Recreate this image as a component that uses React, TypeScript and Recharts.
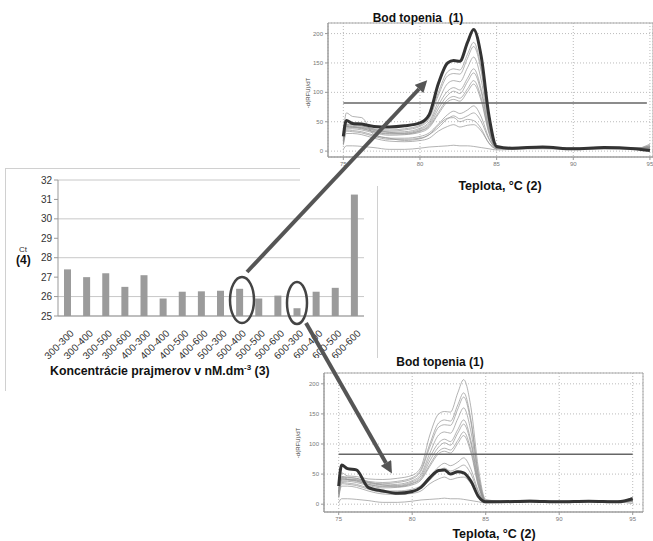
import {
  BarChart,
  Bar,
  XAxis,
  YAxis,
  CartesianGrid,
  LineChart,
  Line,
  ReferenceLine,
  ReferenceArea,
} from "recharts";

const FONT = '"Liberation Sans", Arial, sans-serif';

// Ct per primer concentration pair
const primerPairs = [
  "300-300", "300-400", "300-500", "300-600",
  "400-300", "400-400", "400-500", "400-600",
  "500-300", "500-400", "500-500", "500-600",
  "600-300", "600-400", "600-500", "600-600",
];
const ctValues = [
  27.4, 27.0, 27.2, 26.5, 27.1, 25.9, 26.25, 26.27,
  26.3, 26.4, 25.9, 26.05, 25.4, 26.25, 26.45, 31.25,
];
const ctTicks = [25, 26, 27, 28, 29, 30, 31, 32];

// melt curves, -d(RFU)/dT sampled at these temperatures
const temps = [75, 75.2, 75.6, 76.2, 77, 78, 79, 80, 80.6, 81.2, 81.8, 82.2, 82.6, 83.1, 83.5, 84, 84.5, 85, 86, 88, 90, 92, 94, 95];
const curve500_400 = [25, 52, 47, 46, 42, 41, 43, 48, 62, 115, 150, 154, 153, 185, 207, 160, 60, 8, 5, 7, 4, 6, 4, 1];
const curve600_300 = [30, 65, 59, 57, 28, 22, 18, 21, 28, 44, 56, 57, 50, 54, 52, 38, 13, 4, 4, 5, 4, 5, 4, 9];
const meltA = [20, 45, 44, 43, 38, 36, 38, 44, 58, 100, 135, 140, 138, 165, 185, 140, 50, 6, 4, 6, 4, 5, 4, 10];
const meltB = [22, 44, 42, 41, 36, 34, 36, 42, 55, 95, 128, 132, 131, 158, 178, 135, 48, 6, 5, 5, 5, 6, 5, 6];
const meltC = [20, 42, 41, 40, 35, 32, 33, 39, 50, 85, 115, 120, 118, 142, 160, 120, 42, 6, 4, 6, 3, 5, 4, 8];
const meltD = [18, 40, 40, 38, 33, 30, 31, 37, 47, 78, 102, 108, 104, 124, 140, 105, 38, 5, 5, 5, 5, 6, 4, 5];
const meltE = [20, 46, 45, 43, 37, 32, 30, 35, 44, 72, 95, 102, 98, 118, 133, 100, 35, 6, 4, 5, 5, 5, 4, 12];
const meltF = [18, 42, 41, 39, 33, 29, 29, 34, 42, 66, 88, 93, 90, 106, 120, 90, 32, 5, 5, 5, 4, 6, 5, 6];
const meltG = [16, 38, 38, 36, 31, 27, 28, 32, 40, 63, 84, 88, 85, 101, 114, 85, 30, 5, 4, 6, 4, 5, 5, 7];
const meltH = [14, 36, 35, 33, 27, 22, 22, 25, 31, 46, 62, 68, 64, 70, 77, 58, 22, 5, 4, 5, 4, 5, 4, 6];
const meltI = [12, 34, 33, 31, 25, 20, 20, 22, 28, 40, 55, 60, 55, 60, 65, 50, 20, 5, 5, 5, 4, 4, 5, 5];
const meltJ = [10, 30, 30, 28, 22, 17, 16, 18, 22, 34, 42, 45, 41, 44, 45, 34, 14, 4, 4, 5, 3, 4, 4, 5];
const meltK = [3, 9, 9, 8, 6, 3, 3, 5, 7, 8, 9, 10, 9, 9, 8, 6, 4, 2, 3, 4, 3, 4, 3, 4];

const meltTicksX = [75, 80, 85, 90, 95];
const meltTicksY = [0, 50, 100, 150, 200];

const curves: Record<string, number[]> = {
  curve500_400, curve600_300, meltA, meltB, meltC, meltD, meltE, meltF, meltG, meltH, meltI, meltJ, meltK,
};
const curveKeys = Object.keys(curves);

const barData = primerPairs.map((pair, i) => ({ pair, ct: ctValues[i] }));
const meltData = temps.map((t, i) => {
  const row: Record<string, number> = { t };
  curveKeys.forEach((k) => (row[k] = curves[k][i]));
  return row;
});

const PairTick = ({ x, y, payload }: any) => (
  <g transform={`translate(${x + 2},${y + 5})`}>
    <text transform="rotate(-45)" textAnchor="end" dy="0.7em" fontSize={10} fill="#333" fontFamily={FONT}>
      {payload.value}
    </text>
  </g>
);

interface MeltProps {
  left: number;
  top: number;
  width: number;
  height: number;
  marginTop: number;
  marginRight: number;
  yAxisWidth: number;
  xMax: number;
  yMin: number;
  bold: string;
  threshold: number;
  thresholdEnd: number;
}

function MeltChart(p: MeltProps) {
  const light = curveKeys.filter((k) => k !== p.bold);
  return (
    <div style={{ position: "absolute", left: p.left, top: p.top, width: p.width, height: p.height, background: "#fff" }}>
      <LineChart
        width={p.width}
        height={p.height}
        data={meltData}
        margin={{ top: p.marginTop, right: p.marginRight, bottom: 15, left: 0 }}
        style={{ fontFamily: FONT }}
      >
        <CartesianGrid stroke="#bbb" strokeDasharray="1 2" />
        <ReferenceArea x1={74} x2={p.xMax} y1={p.yMin} y2={218} fill="none" stroke="#aaa" />
        <XAxis
          dataKey="t"
          type="number"
          domain={[74, p.xMax]}
          ticks={meltTicksX}
          height={14}
          tick={{ fontSize: 6, fill: "#777" }}
          tickSize={3}
          stroke="#999"
        />
        <YAxis
          type="number"
          domain={[p.yMin, 218]}
          ticks={meltTicksY}
          width={p.yAxisWidth}
          tick={{ fontSize: 6, fill: "#777" }}
          tickSize={3}
          stroke="#999"
        />
        {light.map((k) => (
          <Line key={k} type="monotone" dataKey={k} stroke="#929292" strokeWidth={0.7} dot={false} isAnimationActive={false} />
        ))}
        <ReferenceLine
          segment={[{ x: 75, y: p.threshold }, { x: p.thresholdEnd, y: p.threshold }]}
          stroke="#666"
          strokeWidth={1.5}
        />
        <Line type="monotone" dataKey={p.bold} stroke="#333" strokeWidth={3} dot={false} isAnimationActive={false} />
      </LineChart>
    </div>
  );
}

export default function App() {
  const titleStyle = { fontFamily: FONT, fontWeight: 700, fill: "#111" };
  return (
    <div style={{ position: "absolute", left: 0, top: 0, width: 653, height: 541, background: "#fff", overflow: "hidden" }}>
      <div
        style={{
          position: "absolute",
          left: 5,
          top: 168,
          width: 371,
          height: 222,
          borderLeft: "1px solid #d0d0d0",
          borderTop: "1px solid #d0d0d0",
          borderRight: "1px solid #d0d0d0",
        }}
      />
      <div style={{ position: "absolute", left: 0, top: 160 }}>
        <BarChart
          width={380}
          height={230}
          data={barData}
          margin={{ top: 20, right: 16, bottom: 0, left: 0 }}
          style={{ fontFamily: FONT }}
        >
          <CartesianGrid vertical={false} stroke="#c8c8c8" />
          <XAxis dataKey="pair" interval={0} height={74} tick={<PairTick />} tickLine={false} stroke="#999" />
          <YAxis
            domain={[25, 32]}
            ticks={ctTicks}
            width={58}
            tick={{ fontSize: 10, fill: "#333" }}
            tickSize={4}
            stroke="#999"
          />
          <Bar dataKey="ct" fill="#9b9b9b" barSize={7} isAnimationActive={false} />
        </BarChart>
      </div>

      <MeltChart
        left={300}
        top={0}
        width={353}
        height={186}
        marginTop={23}
        marginRight={0}
        yAxisWidth={28}
        xMax={95.2}
        yMin={-10}
        bold="curve500_400"
        threshold={82}
        thresholdEnd={94.8}
      />
      <MeltChart
        left={290}
        top={358}
        width={363}
        height={183}
        marginTop={15}
        marginRight={10}
        yAxisWidth={34}
        xMax={95.7}
        yMin={-13}
        bold="curve600_300"
        threshold={83}
        thresholdEnd={95}
      />

      <svg width={653} height={541} style={{ position: "absolute", left: 0, top: 0, pointerEvents: "none" }}>
        <defs>
          <marker id="head" viewBox="0 0 10 10" refX={0} refY={5} markerWidth={13} markerHeight={12} markerUnits="userSpaceOnUse" orient="auto">
            <path d="M0,0 L10,5 L0,10 z" fill="#555" />
          </marker>
        </defs>
        <text x={19} y={252} fontSize={8} fill="#333" fontFamily={FONT}>Ct</text>
        <text x={16} y={264} fontSize={12} {...titleStyle}>(4)</text>
        <text x={50} y={375} fontSize={12.3} {...titleStyle}>
          Koncentrácie prajmerov v nM.dm
          <tspan dy={-5} fontSize={8}>-3</tspan>
          <tspan dy={5}> (3)</tspan>
        </text>
        <text x={418} y={22} fontSize={12} textAnchor="middle" style={{ whiteSpace: "pre" }} {...titleStyle}>Bod topenia  (1)</text>
        <text x={500} y={190} fontSize={12.5} textAnchor="middle" {...titleStyle}>Teplota, °C (2)</text>
        <text x={440} y={366} fontSize={12} textAnchor="middle" {...titleStyle}>Bod topenia (1)</text>
        <text x={494} y={538} fontSize={12.5} textAnchor="middle" {...titleStyle}>Teplota, °C (2)</text>
        <text transform="translate(310,93) rotate(-90)" fontSize={6} fill="#444" textAnchor="middle" fontFamily={FONT}>-d(RFU)/dT</text>
        <text transform="translate(300,443) rotate(-90)" fontSize={6} fill="#444" textAnchor="middle" fontFamily={FONT}>-d(RFU)/dT</text>

        <ellipse cx={242} cy={300} rx={12} ry={23} fill="none" stroke="#444" strokeWidth={2.5} />
        <ellipse cx={297} cy={303} rx={10} ry={21} fill="none" stroke="#444" strokeWidth={2.5} />
        <line x1={247} y1={272} x2={419} y2={89} stroke="#555" strokeWidth={4} markerEnd="url(#head)" />
        <line x1={306} y1={323} x2={386} y2={463} stroke="#555" strokeWidth={4} markerEnd="url(#head)" />
      </svg>
    </div>
  );
}
